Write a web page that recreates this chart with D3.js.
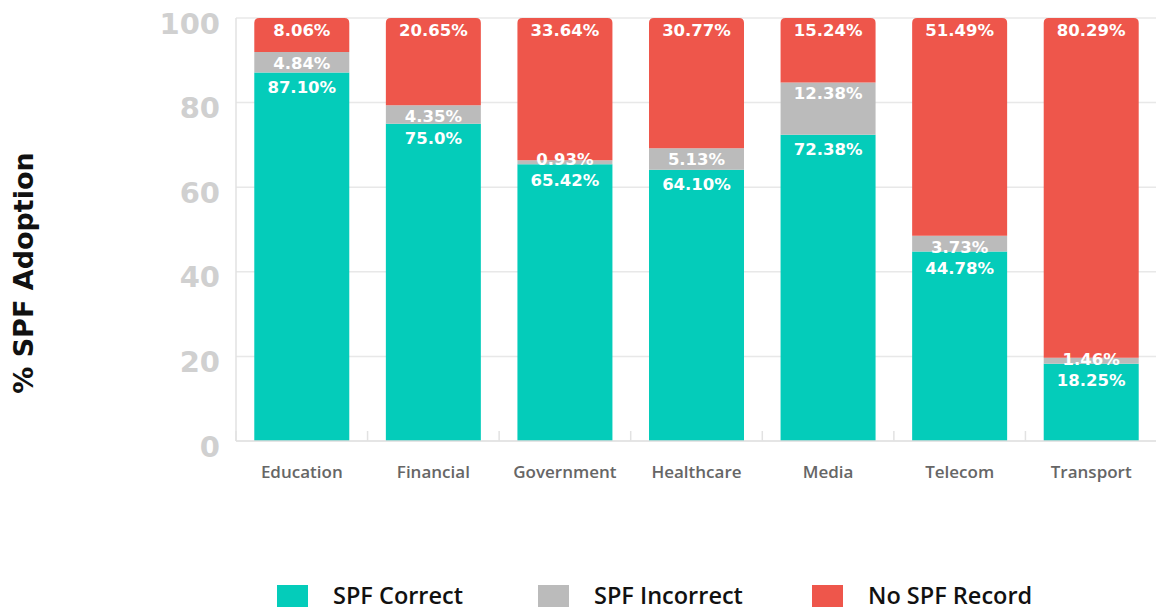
<!DOCTYPE html>
<html>
<head>
<meta charset="utf-8">
<script src="https://cdn.jsdelivr.net/npm/d3@7"></script>
<style>
  body { margin: 0; background: #fff; }
</style>
</head>
<body>
<div id="canvas"></div>
<script>
// data
const sectors = ["Education", "Financial", "Government", "Healthcare", "Media", "Telecom", "Transport"];
const spfCorrect = [87.10, 75.0, 65.42, 64.10, 72.38, 44.78, 18.25];
const spfIncorrect = [4.84, 4.35, 0.93, 5.13, 12.38, 3.73, 1.46];
const noSpf = [8.06, 20.65, 33.64, 30.77, 15.24, 51.49, 80.29];
const correctLabels = ["87.10%", "75.0%", "65.42%", "64.10%", "72.38%", "44.78%", "18.25%"];
const incorrectLabels = ["4.84%", "4.35%", "0.93%", "5.13%", "12.38%", "3.73%", "1.46%"];
const noSpfLabels = ["8.06%", "20.65%", "33.64%", "30.77%", "15.24%", "51.49%", "80.29%"];
const yTicks = [0, 20, 40, 60, 80, 100];

const seriesNames = ["SPF Correct", "SPF Incorrect", "No SPF Record"];
const colors = ["#04ccba", "#bbbbbb", "#ee564b"];

const width = 1156, height = 610;
const margin = { top: 18, right: -1, bottom: 169, left: 236 };
const graphWidth = width - margin.left - margin.right;
const graphHeight = height - margin.top - margin.bottom;

const svg = d3.select("#canvas").append("svg")
    .attr("width", width)
    .attr("height", height);

const graph = svg.append("g")
    .attr("transform", `translate(${margin.left},${margin.top})`);

const x = d3.scaleBand()
    .domain(sectors)
    .range([0, graphWidth])
    .paddingInner(0.278)
    .paddingOuter(0.139);

const y = d3.scaleLinear()
    .domain([0, 100])
    .range([graphHeight, 0]);

// gridlines
graph.append("g")
    .selectAll("line")
    .data(yTicks.filter(t => t > 0))
    .enter().append("line")
    .attr("x1", 0)
    .attr("x2", graphWidth)
    .attr("y1", d => y(d))
    .attr("y2", d => y(d))
    .attr("stroke", "#e8e8e8")
    .attr("stroke-width", 1.5);

// left axis line
graph.append("line")
    .attr("x1", 0).attr("x2", 0)
    .attr("y1", 0).attr("y2", graphHeight)
    .attr("stroke", "#e2e2e2")
    .attr("stroke-width", 1.5);

// y tick labels
const yAxis = graph.append("g")
    .call(d3.axisLeft(y).tickValues(yTicks).tickSize(0).tickPadding(16));
yAxis.select(".domain").remove();
yAxis.selectAll("text")
    .attr("dy", "0.52em")
    .style("font-family", "'DejaVu Sans', sans-serif")
    .style("font-weight", "700")
    .style("font-size", "29px")
    .attr("fill", "#d0d0d0");

// stack the series
const rows = sectors.map((s, i) => ({
    sector: s,
    correct: spfCorrect[i],
    incorrect: spfIncorrect[i],
    none: noSpf[i],
    labels: [correctLabels[i], incorrectLabels[i], noSpfLabels[i]]
}));
const keys = ["correct", "incorrect", "none"];
const stacked = d3.stack().keys(keys)(rows);

const layers = graph.selectAll(".layer")
    .data(stacked)
    .enter().append("g")
    .attr("class", "layer")
    .attr("fill", (d, i) => colors[i]);

// rounded top only for the top segment
function segPath(x0, y0, w, h, r) {
    return `M${x0},${y0 + h} V${y0 + r} Q${x0},${y0} ${x0 + r},${y0} H${x0 + w - r} Q${x0 + w},${y0} ${x0 + w},${y0 + r} V${y0 + h} Z`;
}

layers.each(function(layer, li) {
    d3.select(this).selectAll("path")
        .data(layer)
        .enter().append("path")
        .attr("d", d => {
            const x0 = x(d.data.sector);
            const y0 = y(d[1]);
            const h = y(d[0]) - y(d[1]);
            return segPath(x0, y0, x.bandwidth(), h, li === 2 ? 5 : 0);
        });
});

// label baselines: near the top of each segment, squeezed segments keep label at their bottom,
// and the label below is pushed down so they don't collide
const labelY = rows.map((r, i) => {
    const red = y(100) + 18;
    const grayTop = y(stacked[1][i][1]), grayBot = y(stacked[1][i][0]);
    const gray = Math.min(grayTop + 17, grayBot + 1);
    const teal = Math.max(y(stacked[0][i][1]) + 20, gray + 21);
    return [teal, gray, red];
});

const labelsG = graph.append("g");
stacked.forEach((layer, li) => {
    labelsG.selectAll(null)
        .data(layer)
        .enter().append("text")
        .attr("x", d => x(d.data.sector) + x.bandwidth() / 2)
        .attr("y", (d, i) => labelY[i][li])
        .attr("text-anchor", "middle")
        .attr("fill", "#fff")
        .style("font-family", "'DejaVu Sans', sans-serif")
        .style("font-weight", "700")
        .style("font-size", "16.5px")
        .text(d => d.data.labels[li]);
});

// bottom axis
graph.append("line")
    .attr("x1", 0).attr("x2", graphWidth)
    .attr("y1", graphHeight).attr("y2", graphHeight)
    .attr("stroke", "#dddddd")
    .attr("stroke-width", 1.5);

// small ticks between bands
const step = x.step();
graph.append("g")
    .selectAll("line")
    .data(d3.range(sectors.length + 1))
    .enter().append("line")
    .attr("x1", i => i * step)
    .attr("x2", i => i * step)
    .attr("y1", graphHeight - 10)
    .attr("y2", graphHeight)
    .attr("stroke", "#e2e2e2")
    .attr("stroke-width", 1.5);

// category labels
graph.append("g")
    .selectAll("text")
    .data(sectors)
    .enter().append("text")
    .attr("x", d => x(d) + x.bandwidth() / 2)
    .attr("y", graphHeight + 37)
    .attr("text-anchor", "middle")
    .attr("fill", "#666")
    .style("font-family", "'Open Sans', sans-serif")
    .style("font-weight", "600")
    .style("font-size", "17px")
    .text(d => d);

// y axis title
svg.append("text")
    .attr("transform", "rotate(-90)")
    .attr("x", -273)
    .attr("y", 33)
    .attr("text-anchor", "middle")
    .attr("fill", "#111")
    .style("font-family", "'DejaVu Sans', sans-serif")
    .style("font-weight", "700")
    .style("font-size", "27px")
    .text("% SPF Adoption");

// legend
const legendX = [277, 538, 812];
const legend = svg.append("g");
seriesNames.forEach((name, i) => {
    legend.append("rect")
        .attr("x", legendX[i])
        .attr("y", 585)
        .attr("width", 31)
        .attr("height", 22)
        .attr("fill", colors[i]);
    legend.append("text")
        .attr("x", legendX[i] + 56)
        .attr("y", 604)
        .attr("fill", "#111")
        .style("font-family", "'Open Sans', sans-serif")
        .style("font-weight", "600")
        .style("font-size", "23.5px")
        .text(name);
});
</script>
</body>
</html>
